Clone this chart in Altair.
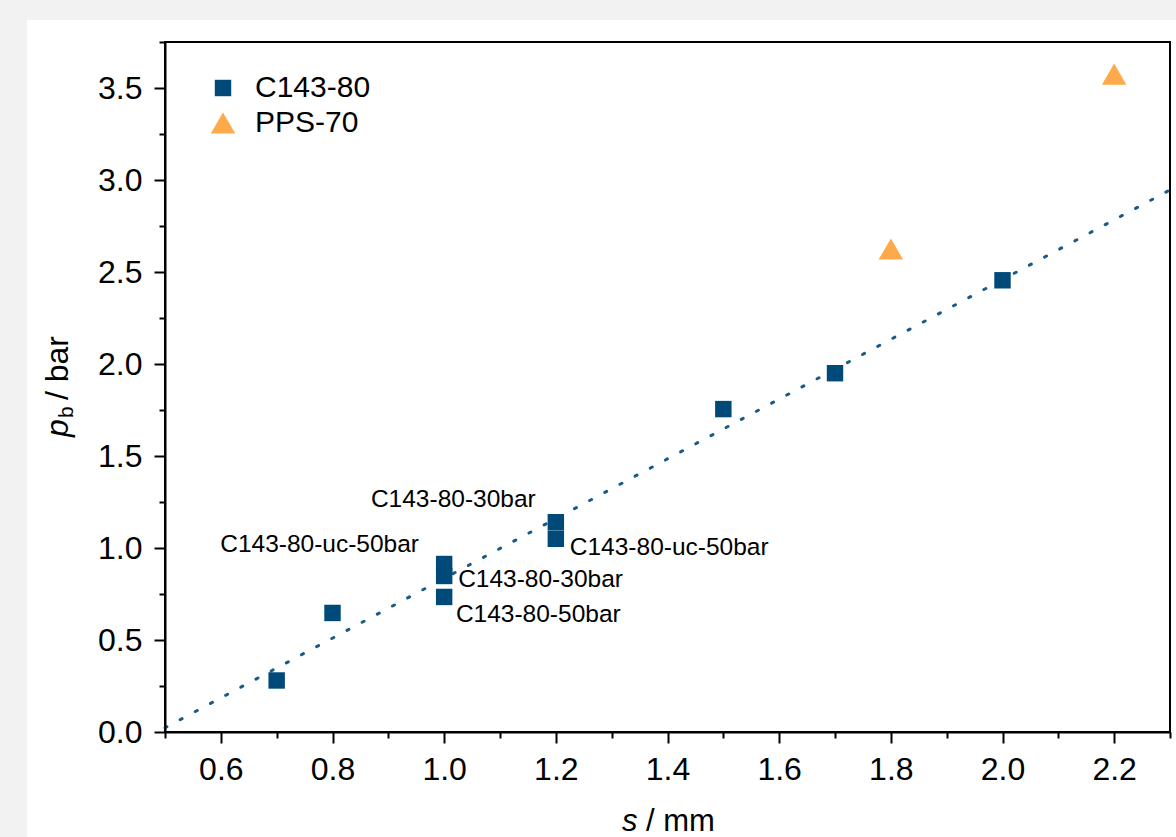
import altair as alt
import pandas as pd

# Breakthrough pressure p_b versus gap width s
c143_s = [0.7, 0.8, 1.0, 1.0, 1.0, 1.2, 1.2, 1.5, 1.7, 2.0]
c143_pb = [0.28, 0.647, 0.734, 0.848, 0.913, 1.05, 1.14, 1.755, 1.95, 2.455]
pps_s = [1.8, 2.2]
pps_pb = [2.625, 3.575]

series_names = ["C143-80", "PPS-70"]
series_colors = ["#004a7a", "#ffaa4a"]
series_shapes = ["square", "triangle-up"]
series_sizes = [270, 600]

# Linear fit through the C143-80 data, end points
fit_s = [0.5, 2.3]
fit_pb = [0.023, 2.946]

# Sample annotations (placed in data units)
note_text = ["C143-80-30bar", "C143-80-uc-50bar", "C143-80-uc-50bar",
             "C143-80-30bar", "C143-80-50bar"]
note_s = [1.164, 1.225, 0.955, 1.025, 1.021]
note_pb = [1.261, 1.0, 1.016, 0.826, 0.636]
note_align = ["right", "left", "right", "left", "left"]

x_ticks = [0.5, 0.6, 0.7, 0.8, 0.9, 1.0, 1.1, 1.2, 1.3, 1.4, 1.5, 1.6, 1.7,
           1.8, 1.9, 2.0, 2.1, 2.2, 2.3]
y_ticks = [0.0, 0.25, 0.5, 0.75, 1.0, 1.25, 1.5, 1.75, 2.0, 2.25, 2.5, 2.75,
           3.0, 3.25, 3.5, 3.75]

FONT = "Liberation Sans"
W, H = 1005, 690
PAD_L, PAD_T = 165, 42
GREY = "#f2f2f2"

points = pd.DataFrame({
    "s": c143_s + pps_s,
    "pb": c143_pb + pps_pb,
    "series": [series_names[0]] * len(c143_s) + [series_names[1]] * len(pps_s),
})
fit = pd.DataFrame({"s": fit_s, "pb": fit_pb})
notes = pd.DataFrame({"s": note_s, "pb": note_pb, "text": note_text,
                      "align": note_align})

x_scale = alt.Scale(domain=[0.5, 2.3], nice=False, zero=False)
y_scale = alt.Scale(domain=[0, 3.75], nice=False)

x_major = "abs(datum.value * 5 - round(datum.value * 5)) < 0.001"
y_major = "abs(datum.value * 2 - round(datum.value * 2)) < 0.001"

axis_style = dict(
    title=None, grid=False, labelFont=FONT, labelFontSize=32, labelColor="black",
    domainColor="black", domainWidth=2, tickColor="black", tickWidth=2,
    labelFlush=False, labelOverlap=False, zindex=1,
)
x_axis = alt.Axis(
    values=x_ticks,
    labelExpr=f"{x_major} ? format(datum.value, '.1f') : ''",
    tickSize={"condition": {"test": x_major, "value": 11}, "value": 6},
    labelPadding=11, **axis_style,
)
y_axis = alt.Axis(
    values=y_ticks,
    labelExpr=f"{y_major} ? format(datum.value, '.1f') : ''",
    tickSize={"condition": {"test": y_major, "value": 11}, "value": 6},
    labelPadding=12, **axis_style,
)

# grey page margin around the white card (top strip and left strip)
strip_df = pd.DataFrame({"k": [0]})
top_strip = alt.Chart(strip_df).mark_rect(color=GREY).encode(
    x=alt.value(-PAD_L - 5), x2=alt.value(W + 20),
    y=alt.value(-PAD_T - 5), y2=alt.value(-22),
)
left_strip = alt.Chart(strip_df).mark_rect(color=GREY).encode(
    x=alt.value(-PAD_L - 5), x2=alt.value(-138),
    y=alt.value(-PAD_T - 5), y2=alt.value(H + 120),
)

fit_line = alt.Chart(fit).mark_line(
    color="#1b5a86", strokeWidth=3, strokeDash=[2.2, 15], strokeCap="round"
).encode(
    x=alt.X("s:Q", scale=x_scale, axis=x_axis),
    y=alt.Y("pb:Q", scale=y_scale, axis=y_axis),
)

legend_style = dict(
    title=None, orient="none", legendX=43, legendY=31,
    labelFont=FONT, labelFontSize=30, labelColor="black",
    symbolStrokeWidth=0, labelOffset=17, rowPadding=5,
)
marks = alt.Chart(points).mark_point(filled=True, opacity=1, strokeWidth=0).encode(
    x=alt.X("s:Q", scale=x_scale),
    y=alt.Y("pb:Q", scale=y_scale),
    color=alt.Color("series:N", scale=alt.Scale(domain=series_names, range=series_colors),
                    legend=alt.Legend(**legend_style)),
    shape=alt.Shape("series:N", scale=alt.Scale(domain=series_names, range=series_shapes),
                    legend=alt.Legend(**legend_style)),
    size=alt.Size("series:N", scale=alt.Scale(domain=series_names, range=series_sizes),
                  legend=alt.Legend(**legend_style)),
)

note_layers = []
for side in ["left", "right"]:
    note_layers.append(
        alt.Chart(notes[notes["align"] == side]).mark_text(
            align=side, baseline="middle", font=FONT, fontSize=24.5, color="black"
        ).encode(
            x=alt.X("s:Q", scale=x_scale),
            y=alt.Y("pb:Q", scale=y_scale),
            text="text:N",
        )
    )

# axis titles: italic symbol + unit
title_df = pd.DataFrame({"k": [0]})
x_sym = alt.Chart(title_df).mark_text(
    text="s", font=FONT, fontSize=31, fontStyle="italic", align="left",
    baseline="alphabetic", color="black"
).encode(x=alt.value(457), y=alt.value(H + 99))
x_unit = alt.Chart(title_df).mark_text(
    text="/\u00a0mm", font=FONT, fontSize=31, align="left",
    baseline="alphabetic", color="black"
).encode(x=alt.value(481), y=alt.value(H + 99))

y_sym = alt.Chart(title_df).mark_text(
    text="p", font=FONT, fontSize=32, fontStyle="italic", align="left",
    baseline="alphabetic", angle=270, color="black"
).encode(x=alt.value(-97), y=alt.value(395))
y_sub = alt.Chart(title_df).mark_text(
    text="b", font=FONT, fontSize=21, align="left",
    baseline="alphabetic", angle=270, color="black"
).encode(x=alt.value(-92), y=alt.value(376))
y_unit = alt.Chart(title_df).mark_text(
    text="/\u00a0bar", font=FONT, fontSize=32, align="left",
    baseline="alphabetic", angle=270, color="black"
).encode(x=alt.value(-97), y=alt.value(358))

chart = alt.layer(
    top_strip, left_strip, fit_line, marks, *note_layers,
    x_sym, x_unit, y_sym, y_sub, y_unit
).properties(
    width=W, height=H,
    autosize=alt.AutoSizeParams(type="none"),
    padding={"left": PAD_L, "top": PAD_T, "right": 6, "bottom": 105},
    background="white",
).configure_view(
    stroke="black", strokeWidth=2
)

chart.save("out.html", embed_options={"renderer": "svg", "actions": False})
